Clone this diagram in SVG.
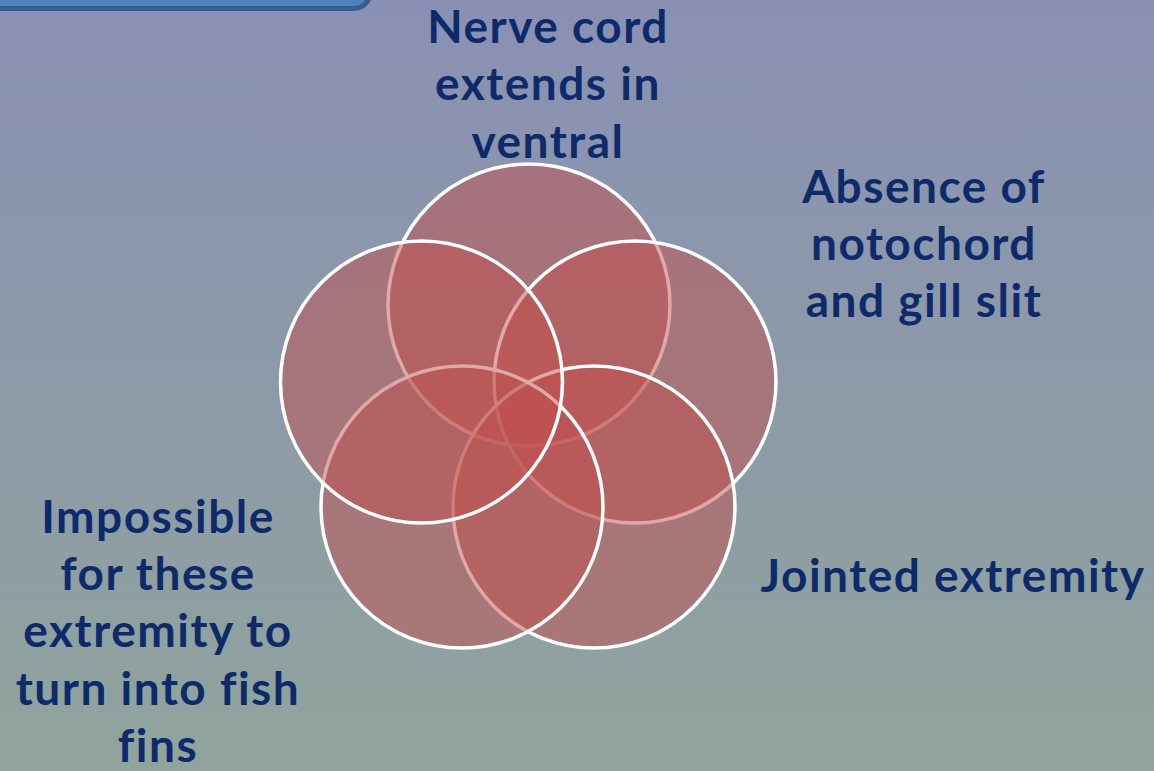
<svg xmlns="http://www.w3.org/2000/svg" width="1154" height="771" viewBox="0 0 1154 771">
  <defs>
    <linearGradient id="bg" x1="0" y1="0" x2="0" y2="1">
      <stop offset="0" stop-color="#8A90B4"/>
      <stop offset="1" stop-color="#90A49C"/>
    </linearGradient>
  </defs>
  <style>
    .c { fill: rgba(192,80,77,0.5); stroke: #FFFFFF; stroke-width: 3.5; }
    .t { font-family: Lato, "Liberation Sans", sans-serif; font-weight: bold; font-size: 46px; letter-spacing: 1.5px; fill: #0D2B6B; text-anchor: middle; }
  </style>
  <rect x="0" y="0" width="1154" height="771" fill="url(#bg)"/>
  <g id="title-box">
    <rect x="-20" y="-40" width="390" height="48.5" rx="16" fill="#4F81BD" stroke="#385D8A" stroke-width="5"/>
  </g>
  <g id="connectors"></g>
  <g id="circle-top"><circle class="c" cx="529" cy="305" r="141"/></g>
  <g id="circle-right"><circle class="c" cx="635" cy="382" r="141"/></g>
  <g id="circle-bottom-right"><circle class="c" cx="594" cy="507" r="141"/></g>
  <g id="circle-bottom-left"><circle class="c" cx="462" cy="507" r="141"/></g>
  <g id="circle-left"><circle class="c" cx="421.5" cy="382" r="141"/></g>
  <g id="label-top">
    <text class="t" x="548" y="43">Nerve cord</text>
    <text class="t" x="548" y="100">extends in</text>
    <text class="t" x="548" y="158">ventral</text>
  </g>
  <g id="label-right">
    <text class="t" x="924" y="203">Absence of</text>
    <text class="t" x="924" y="260">notochord</text>
    <text class="t" x="924" y="317">and gill slit</text>
  </g>
  <g id="label-bottom-right">
    <text class="t" x="953" y="592">Jointed extremity</text>
  </g>
  <g id="label-left">
    <text class="t" x="158" y="533">Impossible</text>
    <text class="t" x="158" y="590">for these</text>
    <text class="t" x="158" y="647">extremity to</text>
    <text class="t" x="158" y="705">turn into fish</text>
    <text class="t" x="158" y="762">fins</text>
  </g>
</svg>
